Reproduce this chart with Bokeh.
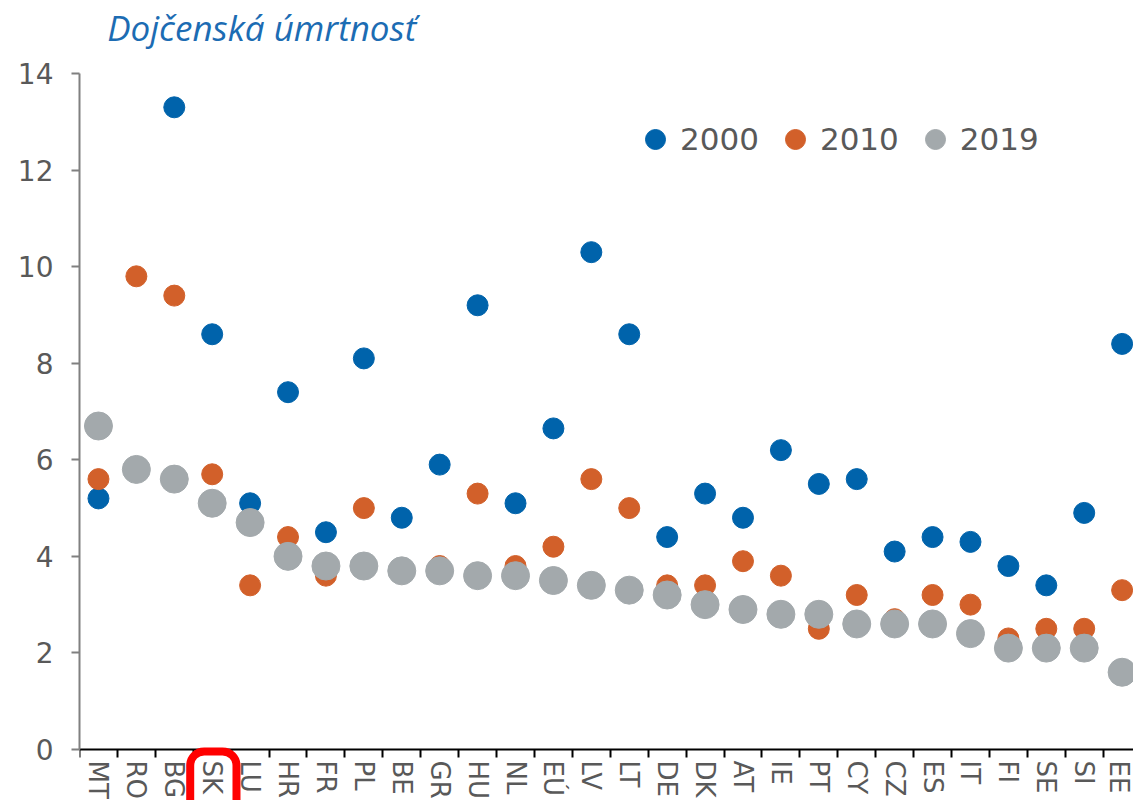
import numpy as np
from bokeh.plotting import figure
from bokeh.models import Range1d, FixedTicker, Legend, Label
from bokeh.embed import file_html
from bokeh.resources import INLINE

countries = ["MT", "RO", "BG", "SK", "LU", "HR", "FR", "PL", "BE", "GR", "HU", "NL", "EÚ", "LV",
             "LT", "DE", "DK", "AT", "IE", "PT", "CY", "CZ", "ES", "IT", "FI", "SE", "SI", "EE"]
y2000 = [5.2, np.nan, 13.3, 8.6, 5.1, 7.4, 4.5, 8.1, 4.8, 5.9, 9.2, 5.1, 6.65, 10.3,
         8.6, 4.4, 5.3, 4.8, 6.2, 5.5, 5.6, 4.1, 4.4, 4.3, 3.8, 3.4, 4.9, 8.4]
y2010 = [5.6, 9.8, 9.4, 5.7, 3.4, 4.4, 3.6, 5.0, 3.65, 3.8, 5.3, 3.8, 4.2, 5.6,
         5.0, 3.4, 3.4, 3.9, 3.6, 2.5, 3.2, 2.7, 3.2, 3.0, 2.3, 2.5, 2.5, 3.3]
y2019 = [6.7, 5.8, 5.6, 5.1, 4.7, 4.0, 3.8, 3.8, 3.7, 3.7, 3.6, 3.6, 3.5, 3.4,
         3.3, 3.2, 3.0, 2.9, 2.8, 2.8, 2.6, 2.6, 2.6, 2.4, 2.1, 2.1, 2.1, 1.6]
y_ticks = [0, 2, 4, 6, 8, 10, 12, 14]
title = "Dojčenská úmrtnosť"
highlight = "SK"

x = np.arange(1, len(countries) + 1)

BLUE = "#0063AB"
ORANGE = "#D2602A"
GRAY = "#A3A9AC"
TXT = "#595959"
FONT = "DejaVu Sans"

p = figure(width=1133, height=800, output_backend="svg", toolbar_location=None, title=None,
           x_range=Range1d(0.5, 28.3), y_range=Range1d(-1.056, 15.512),
           min_border_left=79, min_border_right=0, min_border_top=0, min_border_bottom=0)
p.outline_line_color = None
p.xgrid.visible = False
p.ygrid.visible = False

# y axis (line limited to 0..14)
p.yaxis.ticker = FixedTicker(ticks=y_ticks)
p.yaxis.bounds = (0, 14)
p.yaxis.major_label_text_font = FONT
p.yaxis.major_label_text_font_size = "28px"
p.yaxis.major_label_text_color = TXT
p.yaxis.axis_line_color = "#808080"
p.yaxis.axis_line_width = 2
p.yaxis.major_tick_line_color = "#808080"
p.yaxis.major_tick_line_width = 2
p.yaxis.major_tick_out = 8
p.yaxis.major_tick_in = 0
p.yaxis.minor_tick_line_color = None
p.yaxis.major_label_standoff = 18

# x axis at y = 0: labels at category centres, ticks between categories
xa = p.xaxis[0]
xa.fixed_location = 0
xa.ticker = FixedTicker(ticks=list(x), minor_ticks=list(np.arange(0.5, len(countries) + 1, 1.0)))
xa.major_label_overrides = {int(i): c for i, c in zip(x, countries)}
xa.major_label_orientation = "vertical"
xa.major_label_text_font = FONT
xa.major_label_text_font_size = "26px"
xa.major_label_text_color = TXT
xa.major_label_standoff = 3
xa.axis_line_color = "black"
xa.axis_line_width = 2
xa.major_tick_line_color = None
xa.major_tick_out = 8
xa.major_tick_in = 0
xa.minor_tick_line_color = "black"
xa.minor_tick_line_width = 2
xa.minor_tick_out = 8
xa.minor_tick_in = 0

r0 = p.scatter(x, y2000, size=21, color=BLUE, line_color=BLUE)
r1 = p.scatter(x, y2010, size=21, color=ORANGE, line_color=ORANGE)
r2 = p.scatter(x, y2019, size=28, color=GRAY, line_color=GRAY)

legend = Legend(items=[("2000", [r0]), ("2010", [r1]), ("2019", [r2])],
                orientation="horizontal", location=(551, 636),
                glyph_width=50, glyph_height=50, label_standoff=0, spacing=11,
                padding=0, margin=0, border_line_color=None, background_fill_alpha=0,
                label_text_font=FONT, label_text_font_size="31px", label_text_color=TXT)
p.add_layout(legend)

# chart title
p.add_layout(Label(x=1.23, y=14.95, text=title, text_font="Open Sans", text_font_style="italic",
                   text_font_size="35px", text_color="#1C6CB3", text_baseline="alphabetic"))

# red highlight around the SK label
hi = countries.index(highlight) + 1
p.add_layout(Label(x=hi - 0.58, y=-0.04, text=" ", text_font_size="1px",
                   text_align="left", text_baseline="top",
                   border_line_color="#FF0000", border_line_width=8,
                   padding=dict(left=0, right=46, top=0, bottom=90),
                   border_radius=(14, 14, 0, 0)))

open("out.html", "w").write(file_html(p, INLINE))
